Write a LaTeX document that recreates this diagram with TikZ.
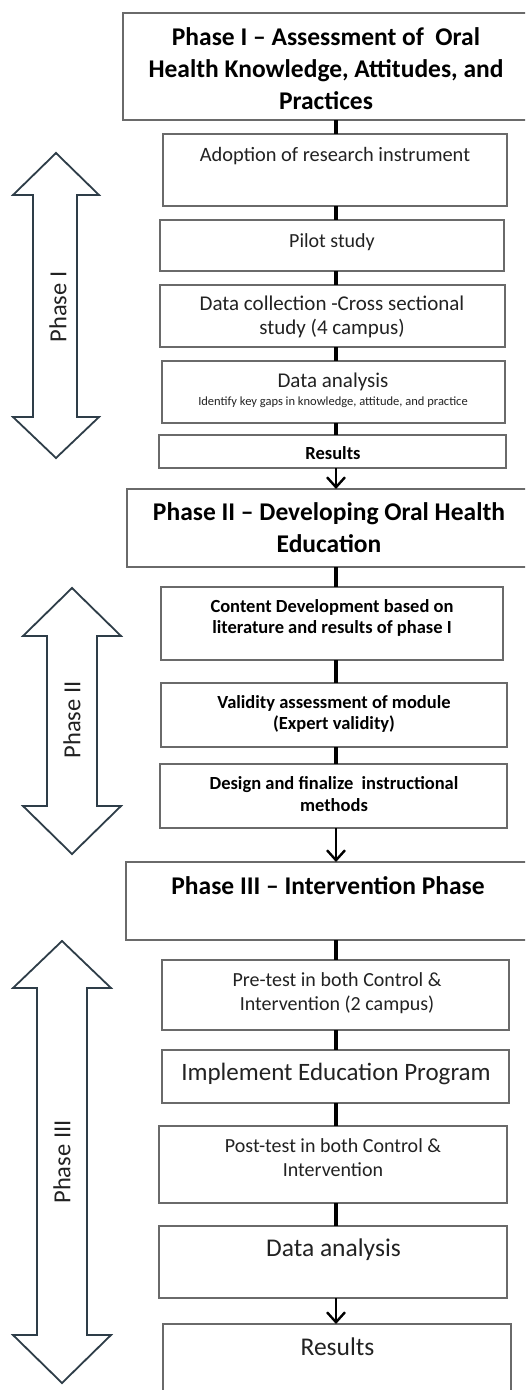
\documentclass[tikz,border=0pt]{standalone}
\usepackage{fontspec}
\setmainfont{Carlito}
\usetikzlibrary{arrows.meta}
\definecolor{boxgray}{HTML}{6A6A6A}
\definecolor{txtgray}{HTML}{222222}
\definecolor{arrowline}{HTML}{2E3D48}
\begin{document}
\begin{tikzpicture}[x=1pt,y=-1pt,
  box/.style={draw=boxgray, line width=1.3pt, fill=white, anchor=north west, inner sep=0pt, outer sep=0pt},
  conn/.style={line width=3.6pt, black},
  arr/.style={line width=2.2pt, black, -{Straight Barb[length=10pt,width=18pt,line width=2.4pt]}},
  bigarrow/.style={draw=arrowline, line width=1.8pt, fill=white, line join=miter},
  titletxt/.style={font=\bfseries\fontsize{25.5}{32}\selectfont, align=center, inner sep=0pt, text=black},
  bodytxt/.style={font=\fontsize{20}{24}\selectfont, align=center, inner sep=0pt, text=txtgray},
  boldtxt/.style={font=\bfseries\fontsize{18.5}{21}\selectfont, align=center, inner sep=0pt, text=black},
  phaselbl/.style={font=\fontsize{24.5}{28}\selectfont, inner sep=0pt, text=txtgray, rotate=90}
]
\clip (0,0) rectangle (525,1390);
\fill[white] (0,0) rectangle (525,1390);

% ---------- left phase arrows ----------
\draw[bigarrow] (56,153) -- (99,195) -- (77,195) -- (77,417) -- (99,417) -- (56,458)
  -- (13,417) -- (33,417) -- (33,195) -- (13,195) -- cycle;
\node[phaselbl] (lblI) at (58,307) {Phase I};

\draw[bigarrow] (72,588) -- (121,636) -- (97,636) -- (97,806) -- (121,806) -- (72,854)
  -- (23,806) -- (47,806) -- (47,636) -- (23,636) -- cycle;
\node[phaselbl] (lblII) at (72,720) {Phase II};

\draw[bigarrow] (62,941) -- (111,988) -- (87,988) -- (87,1335) -- (111,1335) -- (62,1383)
  -- (13,1335) -- (37,1335) -- (37,988) -- (13,988) -- cycle;
\node[phaselbl] (lblIII) at (62,1162) {Phase III};

% ---------- boxes ----------
\node[box, minimum width=407pt, minimum height=107pt] (t1) at (123,13) {};
\node[box, minimum width=344pt, minimum height=72pt] (adopt) at (163,134) {};
\node[box, minimum width=344pt, minimum height=51pt] (pilot) at (160,220) {};
\node[box, minimum width=345pt, minimum height=62pt] (collect) at (160,285) {};
\node[box, minimum width=343pt, minimum height=62pt] (anal1) at (162,361) {};
\node[box, minimum width=347pt, minimum height=33pt] (res1) at (159,435) {};

\node[box, minimum width=403pt, minimum height=78pt] (t2) at (127,489) {};
\node[box, minimum width=342pt, minimum height=73pt] (content) at (161,587) {};
\node[box, minimum width=346pt, minimum height=64pt] (valid) at (161,683) {};
\node[box, minimum width=347pt, minimum height=64pt] (design) at (160,764) {};

\node[box, minimum width=404pt, minimum height=78pt] (t3) at (126,862) {};
\node[box, minimum width=347pt, minimum height=70pt] (pre) at (162,960) {};
\node[box, minimum width=347pt, minimum height=53pt] (impl) at (162,1050) {};
\node[box, minimum width=348pt, minimum height=77pt] (post) at (159,1126) {};
\node[box, minimum width=348pt, minimum height=72pt] (anal3) at (159,1226) {};
\node[box, minimum width=348pt, minimum height=80pt] (res3) at (163,1324) {};

% ---------- texts ----------
\node[titletxt] (t1txt) at (326,69) {Phase I -- Assessment of\ \ Oral\\Health Knowledge, Attitudes, and\\Practices};
\node[bodytxt, font=\fontsize{20.4}{24}\selectfont] (adopttxt) at (335,156) {Adoption of research instrument};
\node[bodytxt] (pilottxt) at (332,242) {Pilot study};
\node[bodytxt, font=\fontsize{21}{24}\selectfont] (collecttxt) at (332,317) {Data collection -Cross sectional\\study (4 campus)};
\node[bodytxt, font=\fontsize{21}{24}\selectfont] (anal1txt) at (333,382) {Data analysis};
\node[bodytxt, font=\fontsize{12.5}{15}\selectfont] (anal1sub) at (333,402) {Identify key gaps in knowledge, attitude, and practice};
\node[boldtxt] (res1txt) at (333,453) {Results};

\node[titletxt] (t2txt) at (329,528) {Phase II -- Developing Oral Health\\Education};
\node[boldtxt] (contenttxt) at (332,618) {Content Development based on\\literature and results of phase I};
\node[boldtxt] (validtxt) at (334,714) {Validity assessment of module\\(Expert validity)};
\node[boldtxt, font=\bfseries\fontsize{18.5}{22}\selectfont] (designtxt) at (334,794) {Design and finalize\ \ instructional\\methods};

\node[titletxt] (t3txt) at (328,886) {Phase III -- Intervention Phase};
\node[bodytxt] (pretxt) at (337,993) {Pre-test in both Control \&\\Intervention (2 campus)};
\node[bodytxt, font=\fontsize{25}{30}\selectfont] (impltxt) at (336,1074) {Implement Education Program};
\node[bodytxt] (posttxt) at (333,1158) {Post-test in both Control \&\\Intervention};
\node[bodytxt, font=\fontsize{25.5}{30}\selectfont] (anal3txt) at (333.5,1250) {Data analysis};
\node[bodytxt, font=\fontsize{25.5}{30}\selectfont] (res3txt) at (337.5,1347) {Results};

% ---------- connectors ----------
\coordinate (cx) at (336,0);
\draw[conn] (t1.south -| cx) -- (adopt.north -| cx);
\draw[conn] (adopt.south -| cx) -- (pilot.north -| cx);
\draw[conn] (pilot.south -| cx) -- (collect.north -| cx);
\draw[conn] (collect.south -| cx) -- (anal1.north -| cx);
\draw[conn] (anal1.south -| cx) -- (res1.north -| cx);
\draw[arr] (res1.south -| cx) -- (t2.north -| cx);

\draw[conn] (t2.south -| cx) -- (content.north -| cx);
\draw[conn] (content.south -| cx) -- (valid.north -| cx);
\draw[conn] (valid.south -| cx) -- (design.north -| cx);
\draw[arr] (design.south -| cx) -- (t3.north -| cx);

\draw[conn] (t3.south -| cx) -- (pre.north -| cx);
\draw[conn] (pre.south -| cx) -- (impl.north -| cx);
\draw[conn] (impl.south -| cx) -- (post.north -| cx);
\draw[conn] (post.south -| cx) -- (anal3.north -| cx);
\draw[arr] (anal3.south -| cx) -- (res3.north -| cx);
\end{tikzpicture}
\end{document}
